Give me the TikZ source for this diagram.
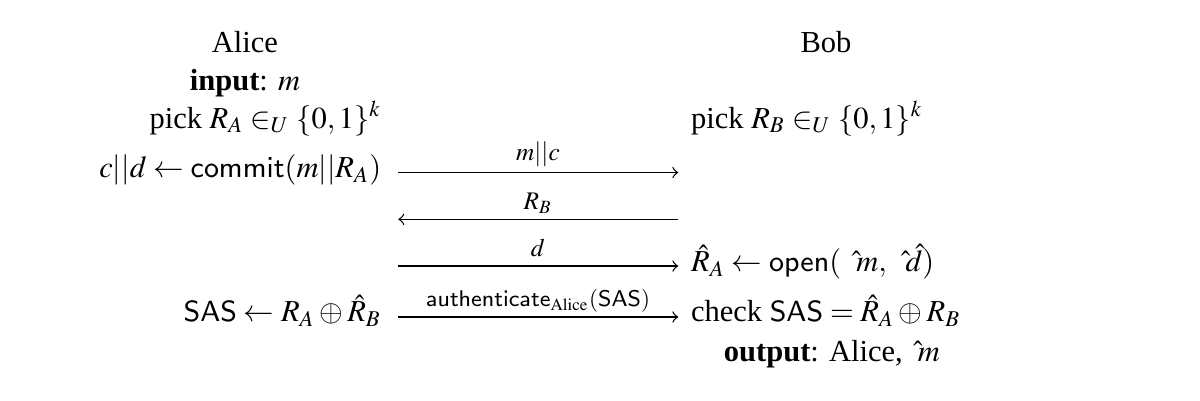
\documentclass[tikz,border=0pt]{standalone}
\usepackage{amsmath,amssymb}
\usepackage{mathptmx}
\usepackage{fontspec}
\setmainfont{Liberation Serif}
\usepackage{tikz}
\usetikzlibrary{arrows,backgrounds,positioning}
\pgfdeclarelayer{edgelayer}
\pgfdeclarelayer{nodelayer}
\pgfsetlayers{background,edgelayer,nodelayer,main}
\tikzstyle{none}=[inner sep=0mm]
\tikzstyle{party}=[none,anchor=base]
\tikzstyle{lstep}=[none,anchor=base east]
\tikzstyle{rstep}=[none,anchor=base west]
\tikzstyle{msglabel}=[none,anchor=base,font={\fontsize{7.8}{9}\selectfont}]
\tikzstyle{diredge}=[->]

\begin{document}
\begin{tikzpicture}[font={\fontsize{9.4}{11.3}\selectfont}]
	\useasboundingbox (0,0) rectangle (13,4.344);
	\begin{pgfonlayer}{nodelayer}
		\node [style=party] (0) at (2.654, 3.770) {Alice};
		\node [style=party] (1) at (8.948, 3.770) {Bob};
		\node [style=party] (2) at (2.654, 3.369) {\textbf{input}: $m$};
		\node [style=lstep] (3) at (4.138, 2.957) {pick $R_A \in_U \{0,1\}^k$};
		\node [style=rstep] (4) at (7.480, 2.957) {pick $R_B \in_U \{0,1\}^k$};
		\node [style=lstep] (5) at (4.138, 2.416) {$c||d \leftarrow \mathsf{commit}(m||R_A)$};
		\node [style=rstep] (6) at (7.480, 1.403) {$\hat{R}_A \leftarrow \mathsf{open}(\ \ \hat{}m,\ \ \hat{}\hat{d})$};
		\node [style=lstep] (7) at (4.138, 0.856) {$\mathsf{SAS} \leftarrow R_A \oplus \hat{R}_B$};
		\node [style=rstep] (8) at (7.480, 0.856) {check $\mathsf{SAS} = \hat{R}_A \oplus R_B$};
		\node [style=party] (9) at (9.013, 0.426) {\textbf{output}: Alice,\ \ $\hat{}m$};
		\node [style=none] (10) at (4.315, 2.475) {};
		\node [style=none] (11) at (7.348, 2.475) {};
		\node [style=none] (12) at (4.315, 1.968) {};
		\node [style=none] (13) at (7.348, 1.968) {};
		\node [style=none] (14) at (4.315, 1.462) {};
		\node [style=none] (15) at (7.348, 1.462) {};
		\node [style=none] (16) at (4.315, 0.910) {};
		\node [style=none] (17) at (7.348, 0.910) {};
		\node [style=msglabel] (18) at (5.828, 2.600) {$m||c$};
		\node [style=msglabel] (19) at (5.828, 2.075) {$R_B$};
		\node [style=msglabel] (20) at (5.828, 1.565) {$d$};
		\node [style=msglabel, font={\fontsize{7.1}{8.5}\selectfont}] (21) at (5.828, 1.025) {$\mathsf{authenticate}_{\mathrm{Alice}}(\mathsf{SAS})$};
	\end{pgfonlayer}
	\begin{pgfonlayer}{edgelayer}
		\draw [style=diredge] (10.center) to (11.center);
		\draw [style=diredge] (13.center) to (12.center);
		\draw [style=diredge] (14.center) to (15.center);
		\draw [style=diredge] (16.center) to (17.center);
	\end{pgfonlayer}
\end{tikzpicture}
\end{document}
